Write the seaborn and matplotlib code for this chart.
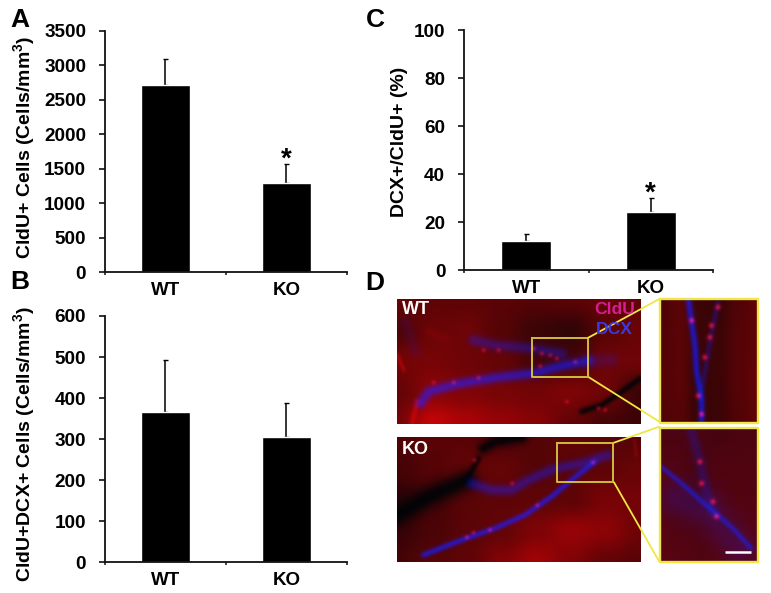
import numpy as np
import matplotlib
matplotlib.use("Agg")
import matplotlib.pyplot as plt
import pandas as pd
import seaborn as sns

W, H = 771, 593
groups = ["WT", "KO"]
a_vals = [2720, 1300]
a_tops = [3090, 1570]
b_vals = [365, 305]
b_tops = [493, 389]
c_vals = [12.3, 24.5]
c_tops = [15.3, 30.0]
a_ticks = [0, 500, 1000, 1500, 2000, 2500, 3000, 3500]
b_ticks = [0, 100, 200, 300, 400, 500, 600]
c_ticks = [0, 20, 40, 60, 80, 100]

# Micrograph content (3x crop coordinates)
wt_bg = [[100, 95, 95, 90, 85, 90,100, 95],
         [ 80,105,110, 85, 60, 50, 90,105],
         [115,120,110,100, 70, 70,110,110],
         [100,140,130,120,115,125,110, 60],
         [120,195,170,150,135,100, 70, 60]]
wt_blue = [([(75,325),(100,290),(180,268),(300,248),(410,235),(500,212),(580,197)], 15, 0.72),
           ([(580,197),(650,195)], 20, 0.22),
           ([(235,135),(300,150),(400,158),(500,175)], 16, 0.42),
           ([(30,80),(60,170)], 18, 0.12)]
wt_dark = [([(560,350),(620,330),(680,290),(736,250)], 9, 0.95)]
wt_ridge = [([(6,180),(25,225)], 5, 0.6), ([(65,320),(50,386)], 7, 0.7), ([(100,110),(150,130)], 14, 0.12)]
wt_spots = [(310,165),(265,165),(415,160),(440,175),(465,180),(485,190),(250,248),(175,262),(115,262),(515,320),(610,340),(630,345),(435,213),(540,200)]

ko_bg = [[ 80, 90, 90, 80, 85, 95, 90, 85],
         [ 70, 85,100,100, 85, 90, 95,105],
         [ 45, 70, 90, 95, 95, 95,120,115],
         [ 55, 75, 90,100,125,150,140,110],
         [ 70, 85, 95,130,160,130,100, 90]]
ko_blue = [([(85,375),(200,330),(300,295),(390,255),(470,200),(530,150),(600,95)], 8, 0.9),
           ([(230,160),(290,180),(350,180),(400,150),(480,115),(560,100),(640,75)], 15, 0.5)]
ko_dark = [([(6,255),(100,200),(215,150)], 32, 0.95), ([(215,150),(250,85)], 9, 0.9), ([(265,55),(300,35),(380,22)], 18, 0.9)]
ko_ridge = [([(720,30),(725,75)], 4, 0.35)]
ko_spots = [(595,97),(352,160),(427,225),(285,300),(235,308),(215,322),(238,90)]

iw_bg = [[ 75, 90, 60, 55, 80, 95],
         [ 80, 90, 60, 60, 85, 95],
         [ 85, 90, 55, 60, 85,100],
         [ 80, 85, 55, 60, 80, 95]]
iw_blue = [([(895,42),(915,180),(920,260),(935,340),(935,410)], 9, 0.85),
           ([(985,50),(960,170),(945,260),(930,340)], 8, 0.35)]
iw_spots = [(985,65),(965,120),(960,155),(945,215),(925,330),(935,385),(905,105)]

ik_bg = [[ 75, 75, 75, 70, 75, 75],
         [ 85, 80, 70, 80, 80, 80],
         [ 85, 80, 80, 85, 85, 85],
         [ 90, 85, 80, 85, 90, 90]]
ik_blue = [([(812,545),(880,600),(960,670),(1030,730),(1085,790)], 7, 0.75),
           ([(905,440),(930,530),(945,600),(970,680)], 16, 0.28),
           ([(860,640),(960,680),(1050,790)], 55, 0.22)]
ik_spots = [(980,695),(970,650),(935,595),(930,530)]

sns.set_theme(style="ticks")
plt.rcParams["font.family"] = ["Liberation Sans", "DejaVu Sans"]
plt.rcParams["font.weight"] = "bold"
plt.rcParams["text.color"] = "black"
plt.rcParams["axes.labelcolor"] = "black"
plt.rcParams["xtick.labelcolor"] = "black"
plt.rcParams["ytick.labelcolor"] = "black"
plt.rcParams["mathtext.fontset"] = "custom"
plt.rcParams["mathtext.bf"] = "Liberation Sans:bold"
plt.rcParams["mathtext.rm"] = "Liberation Sans:bold"
fig = plt.figure(figsize=(W / 100, H / 100), dpi=100, facecolor="white")


def pixel_axes(left, top, right, bottom):
    return fig.add_axes([left / W, 1 - bottom / H, (right - left) / W, (bottom - top) / H])


def bar_panel(box, vals, tops, ticks, label, label_xy, star=False):
    ax = pixel_axes(*box)
    df = pd.DataFrame({"group": groups, "value": vals})
    sns.barplot(df, x="group", y="value", color="black", saturation=1, width=0.4, ax=ax, zorder=2)
    ax.errorbar(groups, vals, yerr=[[0, 0], np.array(tops) - np.array(vals)], fmt="none",
                ecolor="black", elinewidth=1.1, capsize=1.8, capthick=1.0, zorder=1)
    ax.set_xlim(-0.5, 1.5)
    ax.set_ylim(ticks[0], ticks[-1])
    ax.set_yticks(ticks)
    ax.set_xticks([0, 1], groups)
    ax.set_xticks([-0.5, 0.5, 1.5], minor=True)
    ax.tick_params(axis="y", length=4.5, width=1.2, pad=9, labelsize=13.6, color="#111111")
    ax.tick_params(axis="x", which="major", length=0, pad=7, labelsize=13.5)
    ax.tick_params(axis="x", which="minor", length=2, width=1.1, color="#111111")
    for s in ("top", "right"):
        ax.spines[s].set_visible(False)
    for s in ("left", "bottom"):
        ax.spines[s].set_linewidth(1.3)
        ax.spines[s].set_color("#111111")
    ax.set_xlabel("")
    ax.set_ylabel(label, fontsize=14, fontweight="bold")
    ax.yaxis.set_label_coords((label_xy[0] - box[0]) / (box[2] - box[0]),
                              (box[3] - label_xy[1]) / (box[3] - box[1]))
    ax.patch.set_alpha(0)
    if star:
        ax.annotate("*", (1, tops[1]), xytext=(0, -6), textcoords="offset points",
                    ha="center", va="bottom", fontsize=20, fontweight="bold")
    return ax


bar_panel((105, 30.7, 347, 272.3), a_vals, a_tops, a_ticks, r"CldU+ Cells (Cells/mm$\mathbf{^{3}}$)", (37, 147), True)
bar_panel((105, 316, 347, 562.3), b_vals, b_tops, b_ticks, r"CldU+DCX+ Cells (Cells/mm$\mathbf{^{3}}$)", (37, 444))
bar_panel((464, 30.3, 713, 270.3), c_vals, c_tops, c_ticks, "DCX+/CldU+ (%)", (408, 142), True)

ov = fig.add_axes([0, 0, 1, 1])
ov.patch.set_alpha(0)


def seg_dist(X, Y, pts, widths):
    best = np.full(X.shape, np.inf)
    for (x0, y0), (x1, y1) in zip(pts[:-1], pts[1:]):
        dx, dy = x1 - x0, y1 - y0
        t = np.clip(((X - x0) * dx + (Y - y0) * dy) / (dx * dx + dy * dy), 0, 1)
        best = np.minimum(best, np.hypot(X - x0 - t * dx, Y - y0 - t * dy))
    return np.exp(-(best / widths) ** 2)


def bilinear(grid, X, Y, x0, x1, y0, y1):
    g = np.asarray(grid, float)
    u = (X - x0) / (x1 - x0) * (g.shape[1] - 1)
    v = (Y - y0) / (y1 - y0) * (g.shape[0] - 1)
    i = np.clip(u.astype(int), 0, g.shape[1] - 2)
    j = np.clip(v.astype(int), 0, g.shape[0] - 2)
    s, t = u - i, v - j
    s, t = s * s * (3 - 2 * s), t * t * (3 - 2 * t)
    return (g[j, i] * (1 - s) * (1 - t) + g[j, i + 1] * s * (1 - t)
            + g[j + 1, i] * (1 - s) * t + g[j + 1, i + 1] * s * t)


def soften(a, sigma=1.1):
    r = np.arange(-4, 5)
    k = np.exp(-r ** 2 / (2 * sigma ** 2))
    k /= k.sum()
    p = np.pad(a, 4, mode="edge")
    p = np.apply_along_axis(lambda v: np.convolve(v, k, mode="same"), 0, p)
    p = np.apply_along_axis(lambda v: np.convolve(v, k, mode="same"), 1, p)
    return p[4:-4, 4:-4]


def micrograph(extent_px, crop_box, bg, blue=(), dark=(), ridge=(), spots=(), spot_w=4.5, grain=0.0):
    left, top, right, bottom = extent_px
    cx0, cy0, cx1, cy1 = crop_box
    n_x, n_y = int(right - left), int(bottom - top)
    X, Y = np.meshgrid(np.linspace(cx0, cx1, n_x), np.linspace(cy0, cy1, n_y))
    R = bilinear(bg, X, Y, cx0, cx1, cy0, cy1)
    G = np.zeros_like(R) + 4
    B = np.zeros_like(R) + 6
    for pts, w, a in ridge:
        R += (225 - R) * a * seg_dist(X, Y, pts, w)
    for pts, w, a in dark:
        R *= 1 - a * seg_dist(X, Y, pts, w)
    if grain:
        speck = np.sin(X * 2.3 + Y * 1.1) * np.sin(Y * 2.9 - X * 0.7) * np.sin((X + Y) * 1.37)
        B += grain * (speck > 0.2)
    for pts, w, a in blue:
        m = seg_dist(X, Y, pts, w) * a
        beads = 1 + 0.18 * np.sin(X * 0.45) * np.sin(Y * 0.5)
        B += (230 - B) * np.clip(m * beads, 0, 1)
        G += 22 * m
        R *= 1 - 0.62 * m
    for (sx, sy) in spots:
        m = np.exp(-((X - sx) ** 2 + (Y - sy) ** 2) / spot_w ** 2)
        R += (250 - R) * m
        G += 10 * m
        B += (60 - B).clip(0) * m
    img = np.dstack([soften(R), soften(G), soften(B)])
    img = np.clip(img, 0, 255).astype(np.uint8)
    ov.imshow(img, extent=(left, right, bottom, top), aspect="auto", interpolation="bilinear", zorder=1)


micrograph((397, 299, 640.5, 423.7), (6, 12, 736, 386), wt_bg, wt_blue, wt_dark, wt_ridge, wt_spots)
micrograph((397, 437.3, 640.5, 561.7), (6, 22, 738, 395), ko_bg, ko_blue, ko_dark, ko_ridge, ko_spots)
micrograph((660, 299, 758, 423), (810, 42, 1105, 410), iw_bg, iw_blue, spots=iw_spots, spot_w=7)
micrograph((660, 428, 758, 562), (810, 430, 1105, 830), ik_bg, ik_blue, spots=ik_spots, spot_w=7, grain=45)

YEL = "#f0e645"
YEL2 = "#d0bd3c"


def z1(x, y):
    return 390 + x / 3, 285 + y / 3


for (x0, y0), (x1, y1) in (((427, 160), (595, 277)), ((502, 475), (670, 592))):
    a, b = z1(x0, y0), z1(x1, y1)
    ov.plot([a[0], b[0], b[0], a[0], a[0]], [a[1], a[1], b[1], b[1], a[1]], color=YEL2, lw=1.4, zorder=3)
for p, q in (((595, 158), (808, 42)), ((597, 277), (808, 410)), ((672, 473), (808, 425)), ((672, 592), (808, 830))):
    a, b = z1(*p), z1(*q)
    ov.plot([a[0], b[0]], [a[1], b[1]], color=YEL, lw=1.3, zorder=3)
for left, top, right, bottom in ((660, 299, 758, 423), (660, 428, 758, 562)):
    ov.plot([left, right, right, left, left], [top, top, bottom, bottom, top], color=YEL, lw=1.7, zorder=3)
a, b = z1(1005, 800), z1(1082, 800)
ov.plot([a[0], b[0]], [a[1], b[1]], color="white", lw=1.8, zorder=4, solid_capstyle="butt")

ov.text(402, 310, "WT", color="white", fontsize=13, ha="left", va="center", zorder=5)
ov.text(402, 449, "KO", color="white", fontsize=13, ha="left", va="center", zorder=5)
ov.text(615, 309, "CldU", color="#d81c96", fontsize=12.6, ha="center", va="center", zorder=5)
ov.text(614, 329, "DCX", color="#3a3ae0", fontsize=12.6, ha="center", va="center", zorder=5)

for s, x, y in (("A", 20, 20), ("B", 20, 282), ("C", 375, 20), ("D", 375, 283)):
    ov.text(x, y, s, fontsize=19, ha="center", va="center", zorder=5)

ov.set_xlim(0, W)
ov.set_ylim(H, 0)
ov.axis("off")
fig.savefig("out.png", dpi=100)
